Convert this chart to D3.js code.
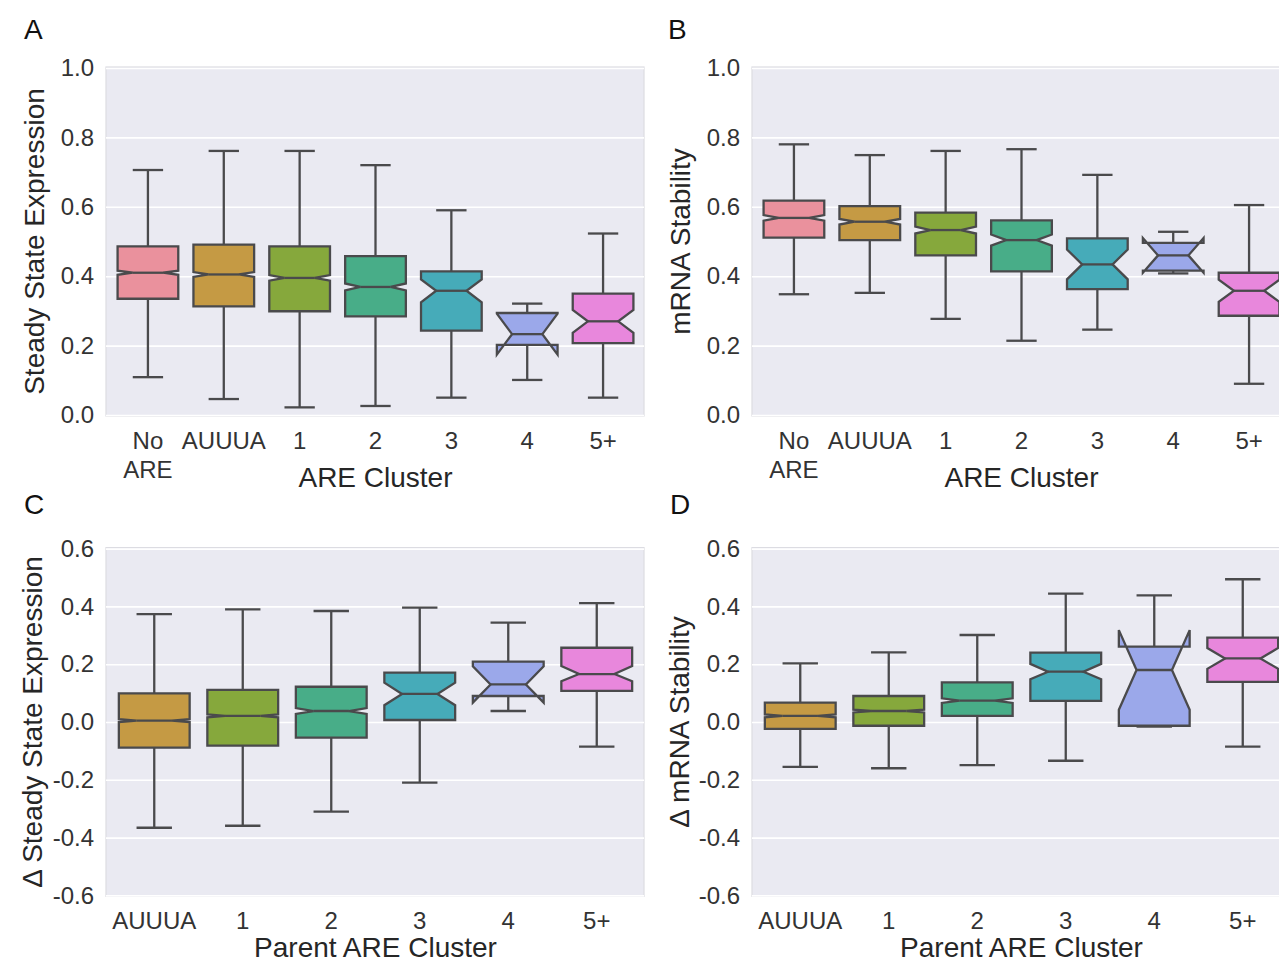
<!DOCTYPE html>
<html>
<head>
<meta charset="utf-8">
<script src="https://cdn.jsdelivr.net/npm/d3@7"></script>
<style>
  html, body { margin: 0; padding: 0; background: #ffffff; }
  svg { display: block; font-family: "Liberation Sans", Arial, sans-serif; }
</style>
</head>
<body>
<svg id="chart" width="1279" height="965"></svg>
<script>
// ---------------- DATA ----------------
const catsAB = ["No ARE", "AUUUA", "1", "2", "3", "4", "5+"];
const catsCD = ["AUUUA", "1", "2", "3", "4", "5+"];

const yTicksAB = [0.0, 0.2, 0.4, 0.6, 0.8, 1.0];
const yTicksCD = [-0.6, -0.4, -0.2, 0.0, 0.2, 0.4, 0.6];

const catColors = {
  "No ARE": "#ea919d",
  "AUUUA": "#c59a44",
  "1": "#86a83c",
  "2": "#48ad88",
  "3": "#46abb9",
  "4": "#9ba8ea",
  "5+": "#e887dc"
};

// Panel A: Steady State Expression
const aLo    = [0.109, 0.046, 0.022, 0.026, 0.050, 0.101, 0.050];
const aQ1    = [0.335, 0.313, 0.299, 0.284, 0.243, 0.202, 0.207];
const aMed   = [0.410, 0.405, 0.395, 0.369, 0.358, 0.233, 0.270];
const aQ3    = [0.486, 0.491, 0.486, 0.458, 0.414, 0.294, 0.350];
const aHi    = [0.706, 0.761, 0.761, 0.720, 0.590, 0.321, 0.523];
const aNLo   = [0.404, 0.398, 0.387, 0.359, 0.325, 0.174, 0.237];
const aNHi   = [0.416, 0.412, 0.403, 0.379, 0.391, 0.292, 0.303];

// Panel B: mRNA Stability
const bLo    = [0.348, 0.352, 0.277, 0.214, 0.246, 0.408, 0.090];
const bQ1    = [0.511, 0.504, 0.460, 0.414, 0.363, 0.416, 0.286];
const bMed   = [0.568, 0.557, 0.533, 0.504, 0.434, 0.460, 0.358];
const bQ3    = [0.618, 0.602, 0.583, 0.561, 0.509, 0.496, 0.410];
const bHi    = [0.780, 0.749, 0.761, 0.766, 0.692, 0.528, 0.605];
const bNLo   = [0.560, 0.549, 0.523, 0.488, 0.391, 0.410, 0.326];
const bNHi   = [0.576, 0.565, 0.543, 0.520, 0.477, 0.510, 0.390];

// Panel C: Δ Steady State Expression
const cLo    = [-0.366, -0.359, -0.310, -0.210, 0.038, -0.085];
const cQ1    = [-0.089, -0.082, -0.054, 0.007, 0.090, 0.108];
const cMed   = [0.005, 0.021, 0.038, 0.097, 0.130, 0.166];
const cQ3    = [0.099, 0.111, 0.122, 0.171, 0.209, 0.257];
const cHi    = [0.373, 0.390, 0.384, 0.396, 0.344, 0.411];
const cNLo   = [0.000, 0.016, 0.028, 0.058, 0.067, 0.141];
const cNHi   = [0.010, 0.026, 0.048, 0.136, 0.193, 0.194];

// Panel D: Δ mRNA Stability
const dLo    = [-0.155, -0.160, -0.149, -0.134, -0.016, -0.085];
const dQ1    = [-0.024, -0.013, 0.021, 0.073, -0.013, 0.139];
const dMed   = [0.021, 0.038, 0.074, 0.174, 0.180, 0.220];
const dQ3    = [0.067, 0.090, 0.137, 0.240, 0.261, 0.292];
const dHi    = [0.203, 0.241, 0.301, 0.444, 0.438, 0.494];
const dNLo   = [0.016, 0.033, 0.066, 0.148, 0.042, 0.184];
const dNHi   = [0.026, 0.043, 0.082, 0.201, 0.318, 0.256];

// ---------------- DRAW ----------------
const svg = d3.select("#chart");
const EDGE = "#4a4a4c";

function panel(opts) {
  const { letter, letterX, letterY, x0, x1, yTop, yBot, cats, domain, ticks,
          lo, q1, med, q3, hi, nlo, nhi, yTitle, yTitleX, xTitle, xTitleY } = opts;

  const x = d3.scaleBand().domain(cats).range([x0 + 4, x1 - 3]).padding(0);
  const y = d3.scaleLinear().domain(domain).range([yBot, yTop]);
  const g = svg.append("g");

  // background
  g.append("rect")
    .attr("x", x0).attr("y", yTop - 1)
    .attr("width", x1 - x0).attr("height", yBot - yTop + 2)
    .attr("fill", "#eaeaf2")
    .attr("stroke", "#dcdce2").attr("stroke-width", 1.2);

  // grid
  const grid = g.append("g").attr("transform", `translate(${x0},0)`)
    .call(d3.axisLeft(y).tickValues(ticks).tickSize(-(x1 - x0)).tickFormat(""));
  grid.select(".domain").remove();
  grid.selectAll("line").attr("stroke", "#ffffff").attr("stroke-width", 1.6);

  // y tick labels
  const ya = g.append("g").attr("transform", `translate(${x0},0)`)
    .call(d3.axisLeft(y).tickValues(ticks).tickSize(0).tickPadding(12)
      .tickFormat(d => d.toFixed(1).replace("\u2212", "-")));
  ya.select(".domain").remove();
  ya.selectAll("text").attr("font-size", 24).attr("fill", "#333333")
    .attr("font-family", "Liberation Sans, Arial, sans-serif");

  // x tick labels
  const xa = g.append("g").attr("transform", `translate(0,${yBot})`)
    .call(d3.axisBottom(x).tickSize(0).tickPadding(17));
  xa.select(".domain").remove();
  xa.selectAll("text").attr("font-size", 24).attr("fill", "#333333")
    .attr("font-family", "Liberation Sans, Arial, sans-serif")
    .each(function(d) {
      const parts = d.split(" ");
      if (parts.length > 1) {
        const t = d3.select(this);
        t.text(null);
        parts.forEach((p, i) => {
          t.append("tspan").attr("x", 0).attr("dy", i === 0 ? "0.71em" : "1.2em").text(p);
        });
        t.attr("dy", null);
      }
    });

  // boxes
  const bw = x.bandwidth() * 0.8;
  const cw = bw * 0.5;
  cats.forEach((c, i) => {
    const cx = x(c) + x.bandwidth() / 2;
    const L = cx - bw / 2, R = cx + bw / 2;
    const NL = cx - bw / 4, NR = cx + bw / 4;
    // whiskers
    g.append("line").attr("x1", cx).attr("x2", cx).attr("y1", y(q1[i])).attr("y2", y(lo[i]))
      .attr("stroke", EDGE).attr("stroke-width", 2.3);
    g.append("line").attr("x1", cx).attr("x2", cx).attr("y1", y(q3[i])).attr("y2", y(hi[i]))
      .attr("stroke", EDGE).attr("stroke-width", 2.3);
    // caps
    g.append("line").attr("x1", cx - cw / 2).attr("x2", cx + cw / 2).attr("y1", y(lo[i])).attr("y2", y(lo[i]))
      .attr("stroke", EDGE).attr("stroke-width", 2.3);
    g.append("line").attr("x1", cx - cw / 2).attr("x2", cx + cw / 2).attr("y1", y(hi[i])).attr("y2", y(hi[i]))
      .attr("stroke", EDGE).attr("stroke-width", 2.3);
    // notched box (matplotlib vertex order)
    const pts = [
      [L, y(q1[i])], [R, y(q1[i])], [R, y(nlo[i])], [NR, y(med[i])], [R, y(nhi[i])],
      [R, y(q3[i])], [L, y(q3[i])], [L, y(nhi[i])], [NL, y(med[i])], [L, y(nlo[i])], [L, y(q1[i])]
    ];
    g.append("path").attr("d", d3.line()(pts) + "Z")
      .attr("fill", catColors[c]).attr("stroke", EDGE).attr("stroke-width", 2.3)
      .attr("stroke-linejoin", "miter");
    // median
    g.append("line").attr("x1", NL).attr("x2", NR).attr("y1", y(med[i])).attr("y2", y(med[i]))
      .attr("stroke", EDGE).attr("stroke-width", 2.3);
  });

  // y title
  svg.append("text")
    .attr("transform", `translate(${yTitleX},${(yTop + yBot) / 2}) rotate(-90)`)
    .attr("text-anchor", "middle").attr("font-size", 28).attr("fill", "#262626")
    .text(yTitle);
  // x title
  svg.append("text")
    .attr("x", (x0 + 4 + x1 - 3) / 2).attr("y", xTitleY)
    .attr("text-anchor", "middle").attr("font-size", 28).attr("fill", "#262626")
    .text(xTitle);
  // panel letter
  svg.append("text").attr("x", letterX).attr("y", letterY)
    .attr("font-size", 28).attr("fill", "#111111").text(letter);
}

panel({ letter: "A", letterX: 24, letterY: 39, x0: 106, x1: 644, yTop: 68, yBot: 415,
  cats: catsAB, domain: [0, 1], ticks: yTicksAB,
  lo: aLo, q1: aQ1, med: aMed, q3: aQ3, hi: aHi, nlo: aNLo, nhi: aNHi,
  yTitle: "Steady State Expression", yTitleX: 44, xTitle: "ARE Cluster", xTitleY: 487 });

panel({ letter: "B", letterX: 668, letterY: 39, x0: 752, x1: 1290, yTop: 68, yBot: 415,
  cats: catsAB, domain: [0, 1], ticks: yTicksAB,
  lo: bLo, q1: bQ1, med: bMed, q3: bQ3, hi: bHi, nlo: bNLo, nhi: bNHi,
  yTitle: "mRNA Stability", yTitleX: 690, xTitle: "ARE Cluster", xTitleY: 487 });

panel({ letter: "C", letterX: 24, letterY: 514, x0: 106, x1: 644, yTop: 548.6, yBot: 895.4,
  cats: catsCD, domain: [-0.6, 0.6], ticks: yTicksCD,
  lo: cLo, q1: cQ1, med: cMed, q3: cQ3, hi: cHi, nlo: cNLo, nhi: cNHi,
  yTitle: "\u0394 Steady State Expression", yTitleX: 42, xTitle: "Parent ARE Cluster", xTitleY: 957 });

panel({ letter: "D", letterX: 670, letterY: 514, x0: 752, x1: 1290, yTop: 548.6, yBot: 895.4,
  cats: catsCD, domain: [-0.6, 0.6], ticks: yTicksCD,
  lo: dLo, q1: dQ1, med: dMed, q3: dQ3, hi: dHi, nlo: dNLo, nhi: dNHi,
  yTitle: "\u0394 mRNA Stability", yTitleX: 689, xTitle: "Parent ARE Cluster", xTitleY: 957 });
</script>
</body>
</html>
